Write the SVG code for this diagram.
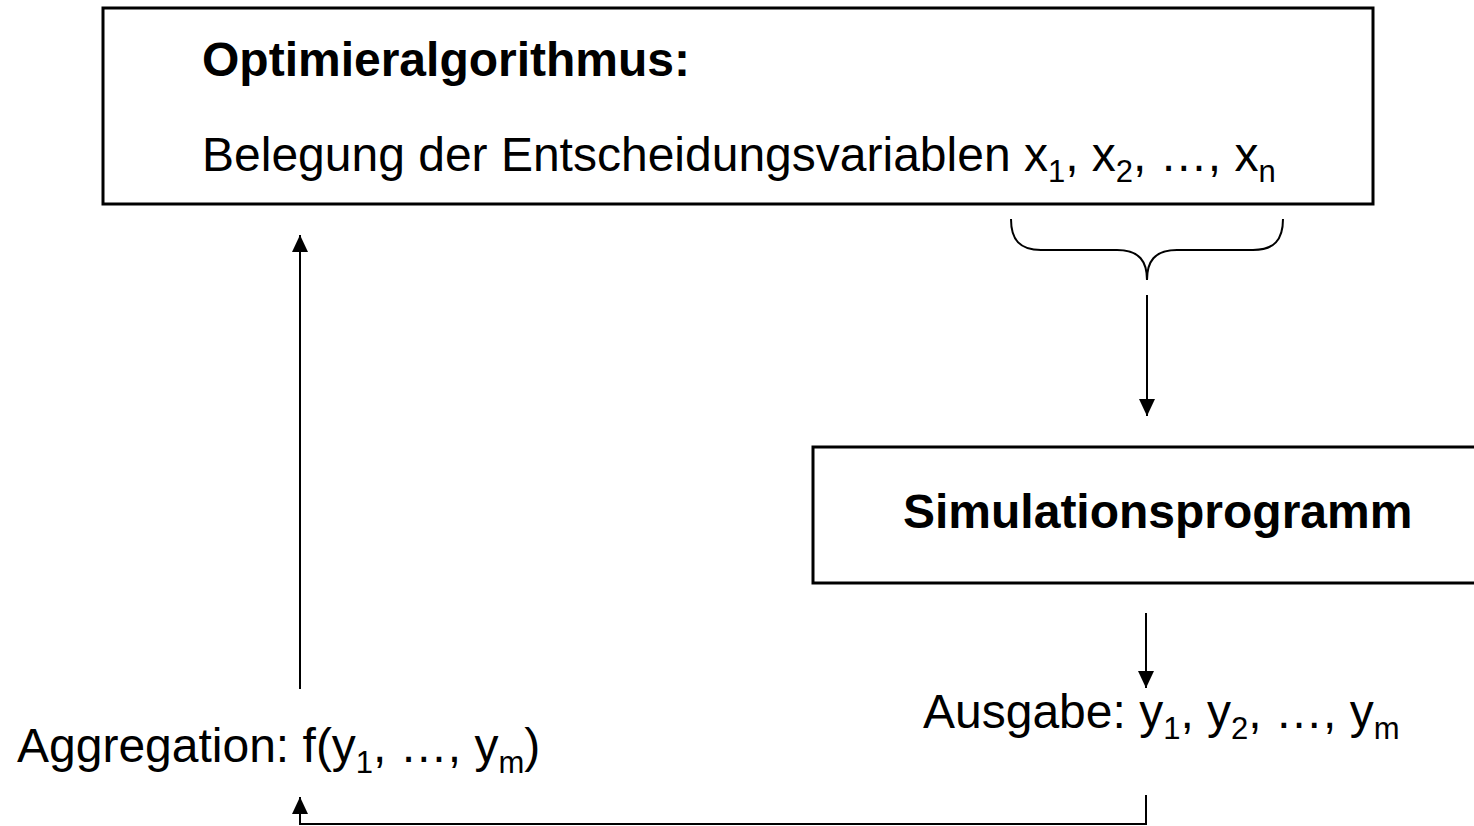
<svg xmlns="http://www.w3.org/2000/svg" width="1474" height="826" viewBox="0 0 1474 826">
<defs>
<style>
.box{fill:#fff;stroke:#000;stroke-width:3}
.t{font-family:"Liberation Sans",Arial,sans-serif;font-size:48px;fill:#000}
.b{font-weight:bold}
.sub{font-size:31px}
.ln{fill:none;stroke:#000;stroke-width:2}
</style>
<marker id="ah" viewBox="0 0 17 16" refX="17" refY="8" markerWidth="17" markerHeight="16" markerUnits="userSpaceOnUse" orient="auto">
<path d="M0,0 L17,8 L0,16 z" fill="#000"/>
</marker>
</defs>
<rect width="1474" height="826" fill="#fff"/>
<g id="optimier">
<rect class="box" x="103" y="8" width="1270" height="196"/>
<text class="t b" x="202" y="76">Optimieralgorithmus:</text>
<text class="t" x="202" y="171">Belegung der Entscheidungsvariablen x<tspan class="sub" dy="11">1</tspan><tspan dy="-11">, x</tspan><tspan class="sub" dy="11">2</tspan><tspan dy="-11">, …, x</tspan><tspan class="sub" dy="11">n</tspan></text>
</g>
<g id="simulation">
<rect class="box" x="813" y="447" width="700" height="136"/>
<text class="t b" x="903" y="528">Simulationsprogramm</text>
</g>
<g id="ausgabe">
<text class="t" x="923" y="728">Ausgabe: y<tspan class="sub" dy="11">1</tspan><tspan dy="-11">, y</tspan><tspan class="sub" dy="11">2</tspan><tspan dy="-11">, …, y</tspan><tspan class="sub" dy="11">m</tspan></text>
</g>
<g id="aggregation">
<text class="t" x="17" y="762">Aggregation: f(y<tspan class="sub" dy="11">1</tspan><tspan dy="-11">, …, y</tspan><tspan class="sub" dy="11">m</tspan><tspan dy="-11">)</tspan></text>
</g>
<g id="connectors">
<path class="ln" d="M1011,219 C1011,240 1020,250 1041,250 L1117,250 C1140,250 1147,262 1147,280 C1147,262 1154,250 1177,250 L1253,250 C1274,250 1283,240 1283,219"/>
<line class="ln" x1="1147" y1="295" x2="1147" y2="416" marker-end="url(#ah)"/>
<line class="ln" x1="1146" y1="613" x2="1146" y2="688" marker-end="url(#ah)"/>
<polyline class="ln" points="1146,795 1146,824 300,824 300,797" marker-end="url(#ah)"/>
<line class="ln" x1="300" y1="689" x2="300" y2="235" marker-end="url(#ah)"/>
</g>
</svg>
